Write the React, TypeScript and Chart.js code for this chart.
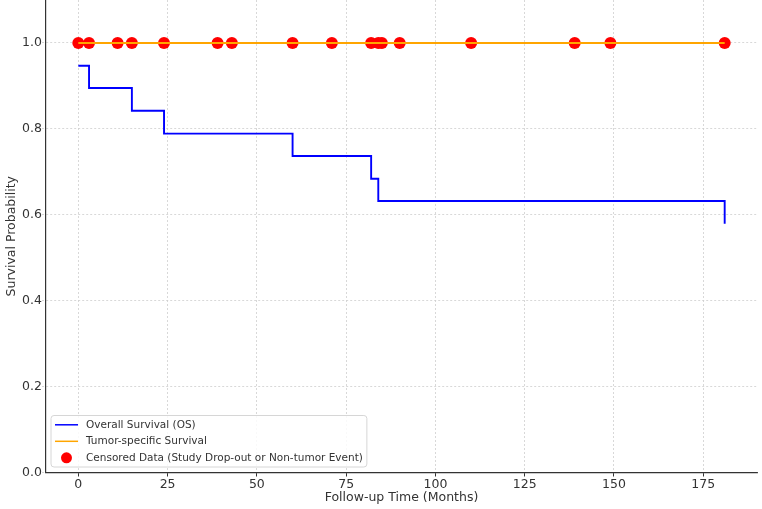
import React, { useEffect, useRef } from 'react';
import { Chart, registerables } from 'chart.js';

Chart.register(...registerables);

// Overall survival (Kaplan-Meier step points)
const osTimes = [0, 3, 15, 24, 60, 82, 84, 181];
const osSurvival = [0.947, 0.895, 0.842, 0.789, 0.737, 0.684, 0.632, 0.579];
// Tumor-specific survival
const tssTimes = [0, 181];
const tssSurvival = [1.0, 1.0];
// Censored observations
const censoredTimes = [0, 3, 11, 15, 24, 39, 43, 60, 71, 82, 84, 85, 90, 110, 139, 149, 181];
const censoredSurvival = [1, 1, 1, 1, 1, 1, 1, 1, 1, 1, 1, 1, 1, 1, 1, 1, 1];
// Axes
const xTicks = [0, 25, 50, 75, 100, 125, 150, 175];
const yTicks = [0, 0.2, 0.4, 0.6, 0.8, 1.0];
const xRange = [-9.05, 190.05];
const yRange = [0, 1.1];

const FONT = '"DejaVu Sans", "Liberation Sans", sans-serif';

const legendPlugin = {
  id: 'boxLegend',
  afterDraw(chart: any) {
    const { ctx, chartArea } = chart;
    const fontSize = 10.5;
    ctx.save();
    ctx.font = `${fontSize}px ${FONT}`;
    const datasets = chart.data.datasets;
    const rowH = 16.5;
    const textX = chartArea.left + 40;
    let maxW = 0;
    datasets.forEach((ds: any) => {
      maxW = Math.max(maxW, ctx.measureText(ds.label).width);
    });
    const boxLeft = chartArea.left + 5;
    const boxRight = textX + maxW + 4;
    const boxH = 51.5;
    const boxBottom = chartArea.bottom - 5.5;
    const boxTop = boxBottom - boxH;
    const r = 3;
    ctx.beginPath();
    ctx.moveTo(boxLeft + r, boxTop);
    ctx.lineTo(boxRight - r, boxTop);
    ctx.quadraticCurveTo(boxRight, boxTop, boxRight, boxTop + r);
    ctx.lineTo(boxRight, boxBottom - r);
    ctx.quadraticCurveTo(boxRight, boxBottom, boxRight - r, boxBottom);
    ctx.lineTo(boxLeft + r, boxBottom);
    ctx.quadraticCurveTo(boxLeft, boxBottom, boxLeft, boxBottom - r);
    ctx.lineTo(boxLeft, boxTop + r);
    ctx.quadraticCurveTo(boxLeft, boxTop, boxLeft + r, boxTop);
    ctx.closePath();
    ctx.fillStyle = 'rgba(255,255,255,0.85)';
    ctx.fill();
    ctx.strokeStyle = '#d6d6d6';
    ctx.lineWidth = 1;
    ctx.stroke();

    datasets.forEach((ds: any, i: number) => {
      const cy = boxTop + 9.3 + i * rowH;
      const sx0 = chartArea.left + 9;
      const sx1 = chartArea.left + 32;
      if (ds.showLine === false) {
        ctx.beginPath();
        ctx.arc((sx0 + sx1) / 2, cy, 5.5, 0, Math.PI * 2);
        ctx.fillStyle = ds.pointBackgroundColor;
        ctx.fill();
      } else {
        ctx.beginPath();
        ctx.moveTo(sx0, cy);
        ctx.lineTo(sx1, cy);
        ctx.strokeStyle = ds.borderColor;
        ctx.lineWidth = 1.5;
        ctx.stroke();
      }
      ctx.fillStyle = '#333';
      ctx.textBaseline = 'middle';
      ctx.textAlign = 'left';
      ctx.fillText(ds.label, textX, cy);
    });
    ctx.restore();
  },
};

export default function App() {
  const canvasRef = useRef<HTMLCanvasElement | null>(null);

  useEffect(() => {
    if (!canvasRef.current) return;
    const gridCommon = {
      color: '#cfcfcf',
      lineWidth: 0.8,
      drawTicks: true,
      tickLength: 4,
    };
    const chart = new Chart(canvasRef.current, {
      type: 'line',
      data: {
        datasets: [
          {
            label: 'Overall Survival (OS)',
            data: osTimes.map((t, i) => ({ x: t, y: osSurvival[i] })),
            borderColor: '#0000ff',
            backgroundColor: '#0000ff',
            borderWidth: 1.9,
            stepped: 'before',
            pointRadius: 0,
            fill: false,
            order: 2,
          },
          {
            label: 'Tumor-specific Survival',
            data: tssTimes.map((t, i) => ({ x: t, y: tssSurvival[i] })),
            borderColor: '#ffa500',
            backgroundColor: '#ffa500',
            borderWidth: 1.9,
            stepped: 'before',
            pointRadius: 0,
            fill: false,
            order: 0,
          },
          {
            label: 'Censored Data (Study Drop-out or Non-tumor Event)',
            data: censoredTimes.map((t, i) => ({ x: t, y: censoredSurvival[i] })),
            showLine: false,
            pointRadius: 6,
            pointHoverRadius: 6,
            pointBackgroundColor: '#ff0000',
            pointBorderWidth: 0,
            pointBorderColor: '#ff0000',
            borderColor: '#ff0000',
            backgroundColor: '#ff0000',
            order: 1,
          },
        ],
      },
      options: {
        animation: false,
        responsive: false,
        maintainAspectRatio: false,
        layout: { autoPadding: false, padding: { left: 0, right: 5, top: 0, bottom: 0 } },
        plugins: {
          legend: { display: false },
          tooltip: { enabled: false },
        },
        scales: {
          x: {
            type: 'linear',
            min: xRange[0],
            max: xRange[1],
            afterBuildTicks: (s: any) => {
              s.ticks = xTicks.map((v) => ({ value: v }));
            },
            afterFit: (s: any) => {
              s.height = 36.5;
              s.paddingLeft = 0;
              s.paddingRight = 0;
            },
            grid: { ...gridCommon, tickColor: '#333', tickBorderDash: [], tickWidth: 1 },
            border: { display: true, color: '#333', width: 1.2, dash: [2, 2] },
            ticks: {
              autoSkip: false,
              maxRotation: 0,
              padding: 1,
              color: '#333',
              font: { family: FONT, size: 12.5 },
              callback: (v: any) => String(v),
            },
            title: {
              display: true,
              text: 'Follow-up Time (Months)',
              color: '#333',
              font: { family: FONT, size: 12.5 },
              padding: { top: 0, bottom: 4 },
            },
          },
          y: {
            type: 'linear',
            min: yRange[0],
            max: yRange[1],
            afterBuildTicks: (s: any) => {
              s.ticks = yTicks.map((v) => ({ value: v }));
            },
            afterFit: (s: any) => {
              s.width = 46;
              s.paddingTop = 0;
              s.paddingBottom = 0;
            },
            grid: { ...gridCommon, tickColor: '#cfcfcf', tickBorderDash: [2, 2] },
            border: { display: true, color: '#333', width: 1.2, dash: [2, 2] },
            ticks: {
              autoSkip: false,
              padding: 0,
              color: '#333',
              font: { family: FONT, size: 12.5 },
              callback: (v: any) => Number(v).toFixed(1),
            },
            title: {
              display: true,
              text: 'Survival Probability',
              color: '#333',
              font: { family: FONT, size: 12.5 },
              padding: { top: 4, bottom: 0 },
            },
          },
        },
      },
      plugins: [legendPlugin],
    } as any);
    return () => chart.destroy();
  }, []);

  return (
    <div style={{ position: 'fixed', left: 0, top: 0, width: 762, height: 509, background: '#fff' }}>
      <canvas ref={canvasRef} width={762} height={509} style={{ display: 'block' }} />
    </div>
  );
}
